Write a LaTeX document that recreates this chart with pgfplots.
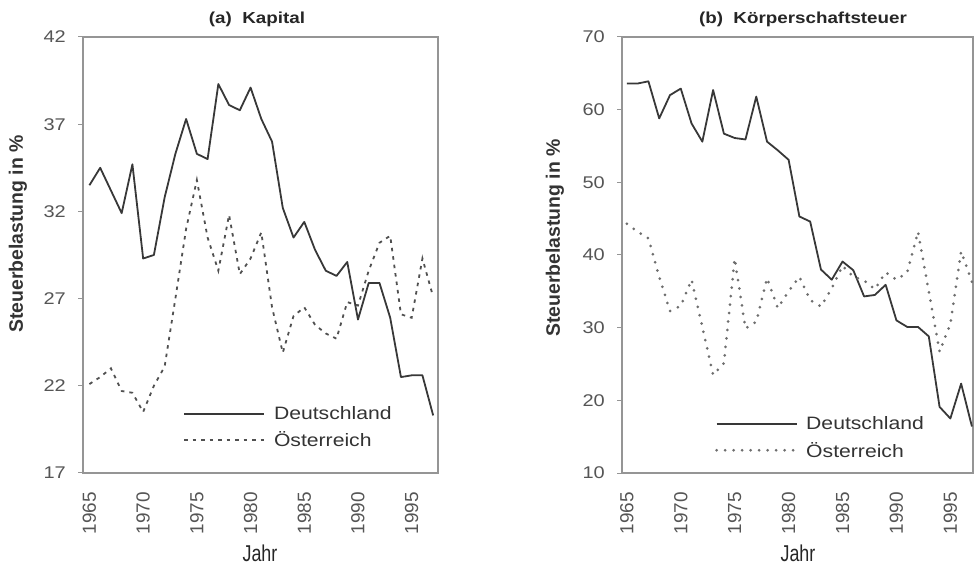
\documentclass[border=0pt]{standalone}
\usepackage{fontspec}
\setmainfont{Liberation Sans}
\newfontfamily\widesans{Liberation Sans}[FakeStretch=1.18]
\newfontfamily\narrowsans{Liberation Sans}[FakeStretch=0.78]
\usepackage{pgfplots}
\usepackage{pgfplotstable}
\pgfplotsset{compat=1.18}

\definecolor{framegray}{HTML}{959595}
\definecolor{tickgray}{HTML}{555555}
\definecolor{linegray}{HTML}{383838}
\definecolor{dashgray}{HTML}{505050}
\definecolor{dotgray}{HTML}{6E6E6E}
\definecolor{textgray}{HTML}{333333}

% Kapital: Deutschland (de), Oesterreich (at)
\pgfplotstableread{
year de at
1965 33.5 22.1
1966 34.5 22.5
1967 33.2 23.0
1968 31.9 21.7
1969 34.7 21.6
1970 29.3 20.5
1971 29.5 22.0
1972 32.8 23.1
1973 35.3 27.0
1974 37.3 31.0
1975 35.3 33.8
1976 35.0 30.5
1977 39.3 28.6
1978 38.1 31.8
1979 37.8 28.4
1980 39.1 29.3
1981 37.3 30.8
1982 36.0 26.5
1983 32.2 23.9
1984 30.5 26.0
1985 31.4 26.5
1986 29.8 25.5
1987 28.6 25.0
1988 28.3 24.7
1989 29.1 26.8
1990 25.8 26.6
1991 27.9 28.6
1992 27.9 30.2
1993 25.9 30.6
1994 22.5 26.1
1995 22.6 25.9
1996 22.6 29.3
1997 20.3 27.1
}\kapital

% Koerperschaftsteuer
\pgfplotstableread{
year de at
1965 63.6 44.3
1966 63.6 43.2
1967 63.9 42.3
1968 58.8 37.0
1969 62.0 32.3
1970 62.9 33.0
1971 58.1 36.6
1972 55.6 30.1
1973 62.7 23.5
1974 56.7 25.1
1975 56.1 39.5
1976 55.9 29.9
1977 61.8 30.8
1978 55.6 36.8
1979 54.4 32.7
1980 53.1 35.0
1981 45.3 37.0
1982 44.6 33.8
1983 38.0 32.9
1984 36.6 35.4
1985 39.1 38.5
1986 37.9 37.0
1987 34.3 36.5
1988 34.5 35.3
1989 35.9 37.6
1990 31.0 36.6
1991 30.1 37.6
1992 30.1 43.2
1993 28.8 35.0
1994 19.1 26.7
1995 17.5 30.5
1996 22.3 40.5
1997 16.4 36.3
}\koerp

\pgfplotsset{
  panel/.style={
    scale only axis,
    height=436bp,
    anchor=south west,
    axis line style={draw=framegray, line width=1.6bp},
    tick align=outside,
    major tick length=5bp,
    ytick pos=left,
    xtick pos=bottom,
    ytick style={draw=framegray, line width=1bp},
    xtick style={draw=none},
    xtick={1965,1970,...,1995},
    /pgf/number format/assume math mode=true,
    /pgf/number format/1000 sep={},
    % shift first, then rotate, so that the shift is downwards
    x tick label style={yshift=-14bp, rotate=90, anchor=east, inner sep=0pt,
      font=\fontsize{19}{19}\selectfont, text=tickgray},
    y tick label style={anchor=east, inner sep=0pt, xshift=-12bp,
      font=\widesans\fontsize{17}{17}\selectfont, text=tickgray},
    legend style={draw=none, fill=none, inner sep=0pt, row sep=11bp,
      font=\widesans\fontsize{18}{18}\selectfont, text=textgray,
      nodes={inner sep=0pt}},
    legend cell align=left,
    legend image code/.code={\draw[##1] (0bp,0bp) -- (80bp,0bp);},
  },
  de/.style={linegray, line width=1.8bp, line join=round},
}

\begin{document}
\begin{tikzpicture}

% (a) Kapital
\begin{axis}[panel, at={(83bp,95bp)}, width=355bp,
    xmin=1964.4, xmax=1997.45, ymin=17, ymax=42, ytick={17,22,...,42},
    legend style={at={(rel axis cs:0.2817,0.1044)}, anchor=west,
      /tikz/column sep=9bp}]
  \addplot[de] table[x=year, y=de] {\kapital};
  \addlegendentry{Deutschland}
  \addplot[dashgray, line width=1.8bp, dash pattern=on 3.5bp off 5bp]
    table[x=year, y=at] {\kapital};
  \addlegendentry{Österreich}
\end{axis}

% (b) Koerperschaftsteuer
\begin{axis}[panel, at={(622bp,95bp)}, width=351bp,
    xmin=1964.55, xmax=1997.1, ymin=10, ymax=70, ytick={10,20,...,70},
    legend style={at={(rel axis cs:0.265,0.0814)}, anchor=west,
      /tikz/column sep=8bp}]
  \addplot[de] table[x=year, y=de] {\koerp};
  \addlegendentry{Deutschland}
  \addplot[dotgray, line width=3bp, line cap=round, dash pattern=on 0bp off 8.5bp]
    table[x=year, y=at] {\koerp};
  \addlegendentry{Österreich}
\end{axis}

% titles and axis labels
\node[font=\widesans\bfseries\fontsize{16}{16}\selectfont, text=black!85] at (257bp,549bp) {(a)\ \ Kapital};
\node[font=\widesans\bfseries\fontsize{16}{16}\selectfont, text=black!85] at (803bp,549bp) {(b)\ \ Körperschaftsteuer};
\node[rotate=90, font=\bfseries\fontsize{19.5}{19.5}\selectfont, text=textgray] at (18bp,334bp) {Steuerbelastung in \%};
\node[rotate=90, font=\bfseries\fontsize{19.5}{19.5}\selectfont, text=textgray] at (555bp,330bp) {Steuerbelastung in \%};
\node[inner sep=0pt, anchor=base, font=\narrowsans\fontsize{23}{23}\selectfont, text=black!85] at (260bp,7bp) {Jahr};
\node[inner sep=0pt, anchor=base, font=\narrowsans\fontsize{23}{23}\selectfont, text=black!85] at (798bp,7bp) {Jahr};

% the page is exactly the reference's size
\pgfresetboundingbox
\useasboundingbox (0,0) rectangle (975bp,568bp);
\end{tikzpicture}
\end{document}
